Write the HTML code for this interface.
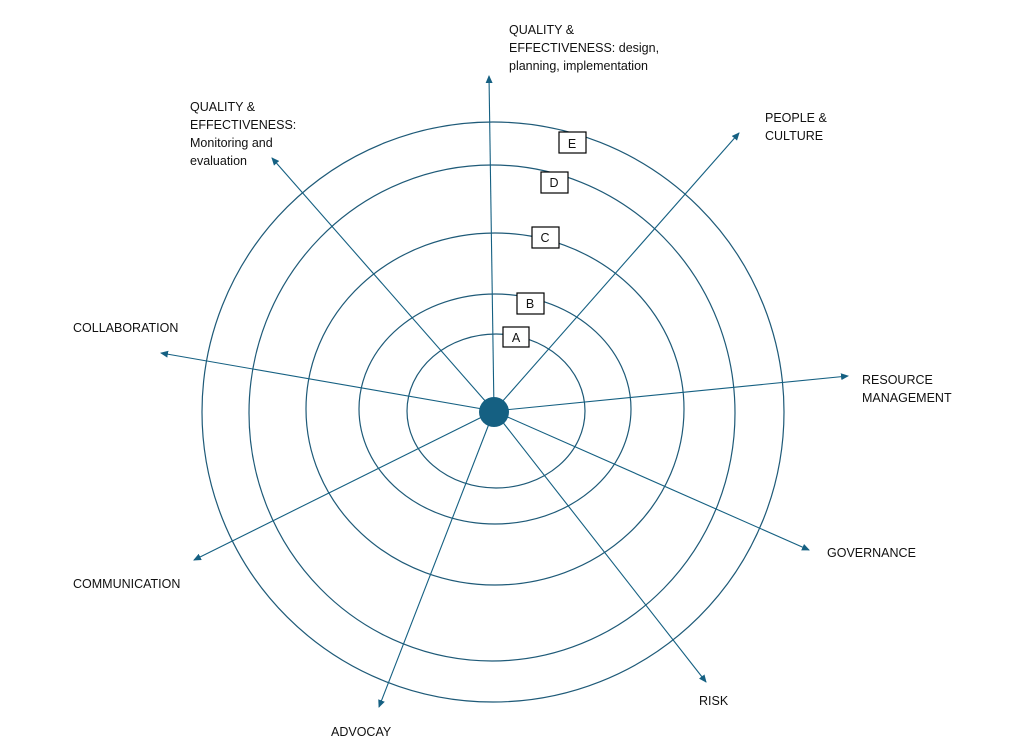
<!DOCTYPE html>
<html><head><meta charset="utf-8"><style>
body{margin:0;background:#fff;width:1025px;height:755px;overflow:hidden}
.t{position:absolute;font-family:"Liberation Sans",sans-serif;font-size:12.5px;line-height:18px;color:#111}
</style></head><body>
<svg width="1025" height="755" style="position:absolute;left:0;top:0">
<defs><marker id="a" markerWidth="8" markerHeight="8" refX="7" refY="4" orient="auto" markerUnits="userSpaceOnUse"><path d="M0,0.5 L8,4 L0,7.5Z" fill="#156082"/></marker></defs>
<g fill="none" stroke="#1e5a78" stroke-width="1.2">
<ellipse cx="496" cy="411" rx="89" ry="77"/>
<ellipse cx="495" cy="409" rx="136" ry="115"/>
<ellipse cx="495" cy="409" rx="189" ry="176"/>
<ellipse cx="492" cy="413" rx="243" ry="248"/>
<ellipse cx="493" cy="412" rx="291" ry="290"/>
</g>
<g stroke="#156082" stroke-width="1.1" marker-end="url(#a)">
<line x1="494" y1="411" x2="489" y2="76"/>
<line x1="494" y1="411" x2="739" y2="133"/>
<line x1="494" y1="411" x2="848" y2="376"/>
<line x1="494" y1="411" x2="809" y2="550"/>
<line x1="494" y1="411" x2="706" y2="682"/>
<line x1="494" y1="411" x2="379" y2="707"/>
<line x1="494" y1="411" x2="194" y2="560"/>
<line x1="494" y1="411" x2="161" y2="353"/>
<line x1="494" y1="411" x2="272" y2="158"/>
</g>
<circle cx="494" cy="412" r="15" fill="#156082"/>
<g fill="#fff" stroke="#000" stroke-width="1.2" font-family="Liberation Sans,sans-serif" font-size="12.5">
<rect x="503" y="327" width="26" height="20"/>
<rect x="517" y="293" width="27" height="21"/>
<rect x="532" y="227" width="27" height="21"/>
<rect x="541" y="172" width="27" height="21"/>
<rect x="559" y="132" width="27" height="21"/>
</g>
<g font-family="Liberation Sans,sans-serif" font-size="12.5" fill="#111" text-anchor="middle">
<text x="516" y="342">A</text><text x="530" y="308">B</text><text x="545" y="242">C</text><text x="554" y="187">D</text><text x="572" y="148">E</text>
</g>
</svg>
<div class="t" style="left:509px;top:21px">QUALITY &amp;<br>EFFECTIVENESS: design,<br>planning, implementation</div>
<div class="t" style="left:190px;top:98px">QUALITY &amp;<br>EFFECTIVENESS:<br>Monitoring and<br>evaluation</div>
<div class="t" style="left:765px;top:109px">PEOPLE &amp;<br>CULTURE</div>
<div class="t" style="left:73px;top:319px">COLLABORATION</div>
<div class="t" style="left:862px;top:371px">RESOURCE<br>MANAGEMENT</div>
<div class="t" style="left:827px;top:544px">GOVERNANCE</div>
<div class="t" style="left:73px;top:575px">COMMUNICATION</div>
<div class="t" style="left:699px;top:692px">RISK</div>
<div class="t" style="left:331px;top:723px">ADVOCAY</div>
</body></html>
